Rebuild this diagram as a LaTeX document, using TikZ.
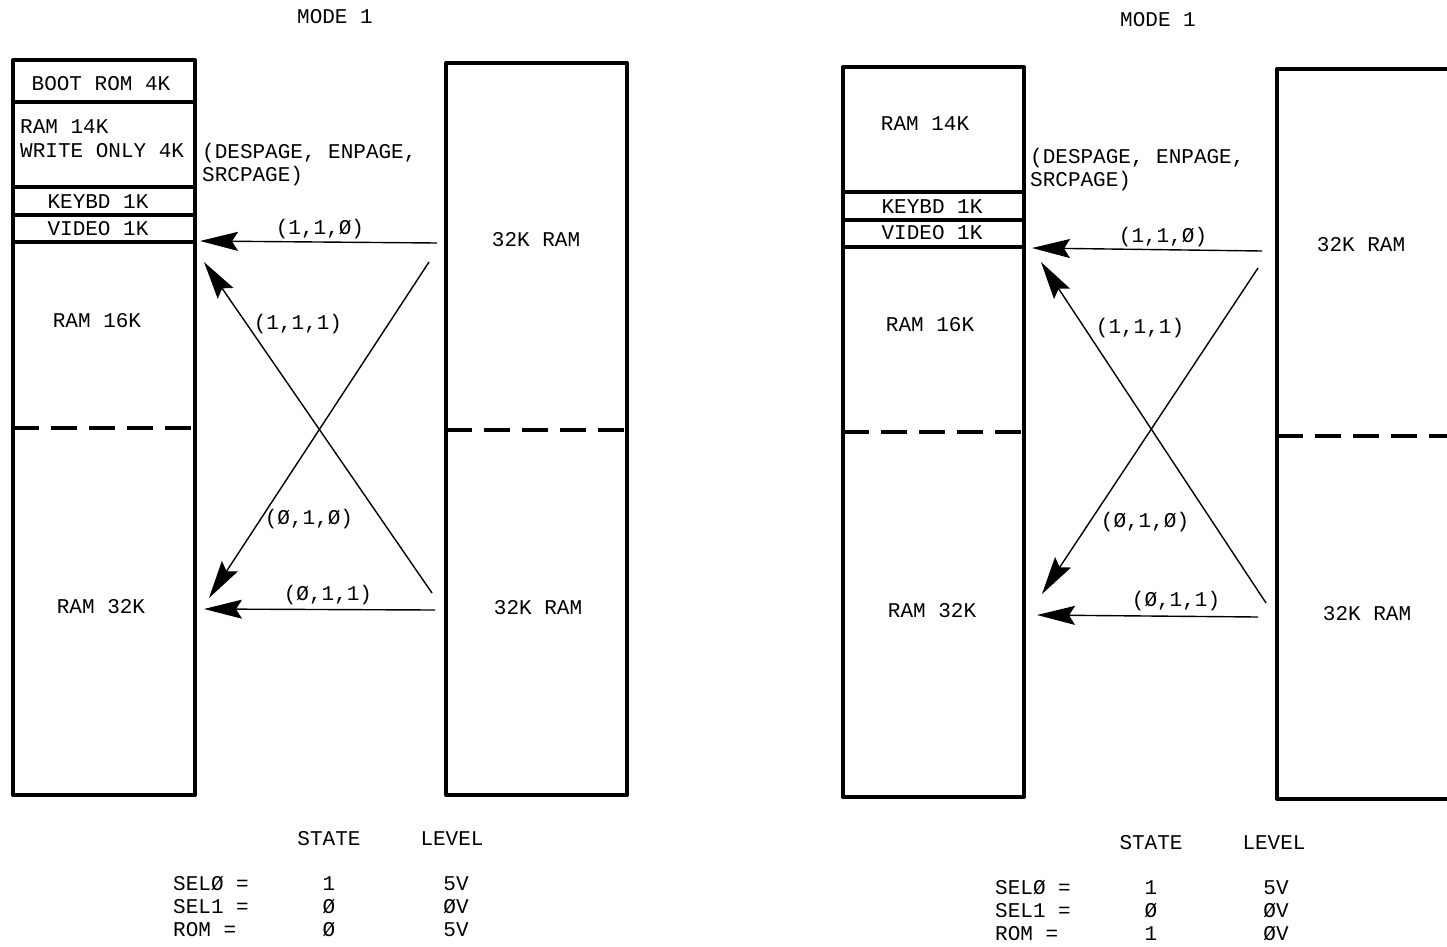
\documentclass[tikz,border=0pt]{standalone}
\usepackage{fontspec}
\setmonofont{Liberation Mono}
\usetikzlibrary{arrows.meta}
\tikzset{
  x=1pt, y=-1pt,
  membox/.style={line width=4pt, line join=round},
  divider/.style={line width=3.5pt},
  dashdiv/.style={line width=4.5pt, dash pattern=on 26pt off 12pt},
  txt/.style={font=\ttfamily\fontsize{21}{24}\selectfont, inner sep=0pt, anchor=base},
  ltxt/.style={txt, anchor=base west},
  conn/.style={line width=1.4pt, -{Stealth[length=38pt,width=19pt,inset=6pt]}},
}
\begin{document}
\begin{tikzpicture}
\useasboundingbox (0,0) rectangle (1447,946);
\fill[white] (0,0) rectangle (1447,946);

% ================= LEFT DIAGRAM =================
\node[txt] (m1) at (335,23) {MODE 1};
% left memory box
\draw[membox] (13,60) rectangle (195,795);
\draw[divider] (13,102) -- (195,102);
\draw[divider] (13,187) -- (195,187);
\draw[divider] (13,215) -- (195,215);
\draw[divider] (13,242) -- (195,242);
\draw[dashdiv] (13,428) -- (195,428);
\node[txt] (lboot) at (101,90) {BOOT ROM 4K};
\node[ltxt] (lram14) at (20,133) {RAM 14K};
\node[ltxt] (lwo) at (20,157) {WRITE ONLY 4K};
\node[txt] (lkey) at (98,208) {KEYBD 1K};
\node[txt] (lvid) at (98,235) {VIDEO 1K};
\node[txt] (lram16) at (97,327) {RAM 16K};
\node[txt] (lram32) at (101,613) {RAM 32K};
% right box
\draw[membox] (446,63) rectangle (627,795);
\draw[dashdiv] (446,430) -- (627,430);
\node[txt] (lr1) at (536,246) {32K RAM};
\node[txt] (lr2) at (538,614) {32K RAM};
\node[ltxt] (lpg1) at (202,158) {(DESPAGE, ENPAGE,};
\node[ltxt] (lpg2) at (202,181) {SRCPAGE)};
% arrows
\coordinate (la1s) at (437,243); \coordinate (la1e) at (200,241);
\coordinate (la2s) at (435,610); \coordinate (la2e) at (204,609);
\coordinate (la3s) at (432,593); \coordinate (la3e) at (204,262);
\coordinate (la4s) at (429,262); \coordinate (la4e) at (209,598);
\draw[conn] (la1s) -- (la1e);
\draw[conn] (la2s) -- (la2e);
\draw[conn] (la3s) -- (la3e);
\draw[conn] (la4s) -- (la4e);
\node[txt] (ll1) at (320,234) {(1,1,Ø)};
\node[txt] (ll2) at (298,329) {(1,1,1)};
\node[txt] (ll3) at (309,524) {(Ø,1,Ø)};
\node[txt] (ll4) at (328,600) {(Ø,1,1)};
% table
\node[txt] (lst) at (329,845) {STATE};
\node[txt] (llv) at (452,845) {LEVEL};
\node[ltxt] (ls0) at (173,890) {SELØ =};
\node[ltxt] (ls1) at (173,913) {SEL1 =};
\node[ltxt] (ls2) at (173,936) {ROM =};
\node[txt] (lv0) at (329,890) {1};
\node[txt] (lv1) at (329,913) {Ø};
\node[txt] (lv2) at (329,936) {Ø};
\node[txt] (lw0) at (456,890) {5V};
\node[txt] (lw1) at (456,913) {ØV};
\node[txt] (lw2) at (456,936) {5V};

% ================= RIGHT DIAGRAM =================
\node[txt] (m2) at (1158,26) {MODE 1};
\draw[membox] (843,67) rectangle (1024,797);
\draw[divider] (843,192) -- (1024,192);
\draw[divider] (843,220) -- (1024,220);
\draw[divider] (843,247) -- (1024,247);
\draw[dashdiv] (843,432) -- (1024,432);
\node[txt] (rram14) at (925,130) {RAM 14K};
\node[txt] (rkey) at (932,213) {KEYBD 1K};
\node[txt] (rvid) at (932,239) {VIDEO 1K};
\node[txt] (rram16) at (930,331) {RAM 16K};
\node[txt] (rram32) at (932,617) {RAM 32K};
\draw[membox] (1470,69) -- (1277,69) -- (1277,799) -- (1470,799);
\draw[dashdiv] (1277,436) -- (1460,436);
\node[txt] (rr1) at (1361,251) {32K RAM};
\node[txt] (rr2) at (1367,620) {32K RAM};
\node[ltxt] (rpg1) at (1030,163) {(DESPAGE, ENPAGE,};
\node[ltxt] (rpg2) at (1030,186) {SRCPAGE)};
\coordinate (ra1s) at (1262,251); \coordinate (ra1e) at (1032,248);
\coordinate (ra2s) at (1258,617); \coordinate (ra2e) at (1037,615);
\coordinate (ra3s) at (1266,603); \coordinate (ra3e) at (1041,262);
\coordinate (ra4s) at (1258,268); \coordinate (ra4e) at (1042,594);
\draw[conn] (ra1s) -- (ra1e);
\draw[conn] (ra2s) -- (ra2e);
\draw[conn] (ra3s) -- (ra3e);
\draw[conn] (ra4s) -- (ra4e);
\node[txt] (rl1) at (1163,242) {(1,1,Ø)};
\node[txt] (rl2) at (1140,333) {(1,1,1)};
\node[txt] (rl3) at (1145,527) {(Ø,1,Ø)};
\node[txt] (rl4) at (1176,606) {(Ø,1,1)};
\node[txt] (rst) at (1151,849) {STATE};
\node[txt] (rlv) at (1274,849) {LEVEL};
\node[ltxt] (rs0) at (995,894) {SELØ =};
\node[ltxt] (rs1) at (995,917) {SEL1 =};
\node[ltxt] (rs2) at (995,940) {ROM =};
\node[txt] (rv0) at (1151,894) {1};
\node[txt] (rv1) at (1151,917) {Ø};
\node[txt] (rv2) at (1151,940) {1};
\node[txt] (rw0) at (1276,894) {5V};
\node[txt] (rw1) at (1276,917) {ØV};
\node[txt] (rw2) at (1276,940) {ØV};
\end{tikzpicture}
\end{document}
